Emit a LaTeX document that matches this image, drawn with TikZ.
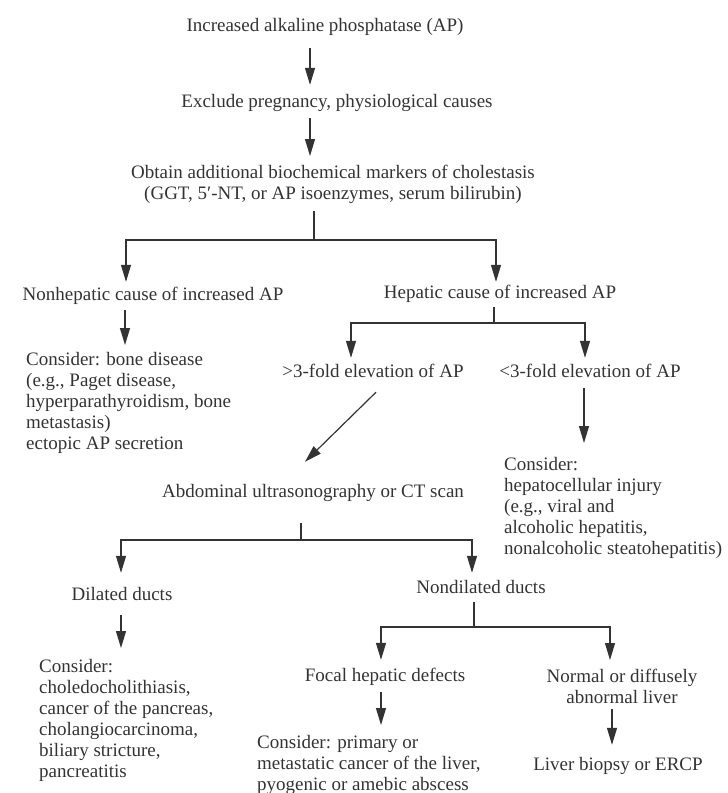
\documentclass[tikz,border=0pt]{standalone}
\usepackage{fontspec}
\setmainfont{Liberation Serif}
\usetikzlibrary{arrows.meta}
\definecolor{ink}{HTML}{333333}
\begin{document}
\begin{tikzpicture}[x=1pt,y=-1pt,
  every node/.style={inner sep=0pt, text=ink, font=\fontsize{19}{21}\selectfont},
  lbl/.style={anchor=base, text height=14pt, text depth=5pt},
  blockl/.style={anchor=north west, align=left},
  blockc/.style={anchor=north, align=center},
  link/.style={draw=ink, line width=1.2pt},
  arr/.style={link, -{Triangle[length=17pt,width=10pt]}}]
\useasboundingbox (0,0) rectangle (728,793);

% steps and findings
\node[lbl] (inc) at (325,31) {Increased alkaline phosphatase (AP)};
\node[lbl] (excl) at (337,107) {Exclude pregnancy, physiological causes};
\node[blockc] (obt) at (333,165) {Obtain additional biochemical markers of cholestasis\\(GGT, 5′-NT, or AP isoenzymes, serum bilirubin)};
\node[lbl] (nonhep) at (153,300) {Nonhepatic cause of increased AP};
\node[lbl] (hep) at (500,298) {Hepatic cause of increased AP};
\node[lbl] (gt3) at (373,377) {>3-fold elevation of AP};
\node[lbl] (lt3) at (590,377) {<3-fold elevation of AP};
\node[blockl] (bone) at (26,352) {Consider: bone disease\\(e.g., Paget disease,\\hyperparathyroidism, bone\\metastasis)\\ectopic AP secretion};
\node[lbl] (scan) at (313,497) {Abdominal ultrasonography or CT scan};
\node[blockl] (hepinj) at (504,457) {Consider:\\hepatocellular injury\\(e.g., viral and\\alcoholic hepatitis,\\nonalcoholic steatohepatitis)};
\node[lbl] (dil) at (122,600) {Dilated ducts};
\node[lbl] (nondil) at (481,593) {Nondilated ducts};
\node[blockl] (obstr) at (39,659) {Consider:\\choledocholithiasis,\\cancer of the pancreas,\\cholangiocarcinoma,\\biliary stricture,\\pancreatitis};
\node[lbl] (focal) at (385,681) {Focal hepatic defects};
\node[blockc] (diffuse) at (622,669) {Normal or diffusely\\abnormal liver};
\node[blockl] (tumour) at (257,735) {Consider: primary or\\metastatic cancer of the liver,\\pyogenic or amebic abscess};
\node[lbl] (biopsy) at (618,770) {Liver biopsy or ERCP};

% junctions of the branching lines
\coordinate (j1) at (314,240);
\coordinate (j2) at (494,323);
\coordinate (j3) at (301,540);
\coordinate (j4) at (474,627);

% straight steps
\draw[arr, shorten <=12pt, shorten >=8pt] ([xshift=-15pt]inc.south) -- ([xshift=-27pt]excl.north);
\draw[arr, shorten <=6pt, shorten >=9pt] ([xshift=-27pt]excl.south) -- ([xshift=-23pt]obt.north);

% first branching
\draw[link, shorten <=7pt] ([xshift=-19pt]obt.south) -- (j1);
\draw[arr, shorten >=4pt] (j1) -| ([xshift=-27pt]nonhep.north);
\draw[arr, shorten >=2pt] (j1) -| ([xshift=-4pt]hep.north);
\draw[arr, shorten <=5pt, shorten >=7pt] ([xshift=-28pt]nonhep.south) -- ([xshift=99pt]bone.north west);

% hepatic branching
\draw[link, shorten <=4pt] ([xshift=-6pt]hep.south) -- (j2);
\draw[arr, shorten >=5pt] (j2) -| ([xshift=-22pt]gt3.north);
\draw[arr, shorten >=5pt] (j2) -| ([xshift=-5pt]lt3.north);
\draw[arr] ([xshift=3pt,yshift=-10pt]gt3.south) -- ([xshift=-8pt,yshift=21pt]scan.north);
\draw[arr, shorten <=6pt, shorten >=14pt] ([xshift=-6pt]lt3.south) -- ([xshift=80pt]hepinj.north west);

% imaging branching
\draw[link, shorten <=21pt] ([xshift=-12pt]scan.south) -- (j3);
\draw[arr, shorten >=13pt] (j3) -| ([xshift=-1pt]dil.north);
\draw[arr, shorten >=6pt] (j3) -| ([xshift=-9pt]nondil.north);
\draw[arr, shorten <=10pt, shorten >=11pt] ([xshift=-1pt]dil.south) -- ([xshift=82pt]obstr.north west);

% nondilated ducts branching
\draw[link, shorten <=4pt] ([xshift=-7pt]nondil.south) -- (j4);
\draw[arr, shorten >=7pt] (j4) -| ([xshift=-4pt]focal.north);
\draw[arr, shorten >=9pt] (j4) -| ([xshift=-12pt]diffuse.north);
\draw[arr, shorten <=6pt, shorten >=10pt] ([xshift=-4pt]focal.south) -- ([xshift=124pt]tumour.north west);
\draw[arr, shorten <=5pt, shorten >=11pt] ([xshift=-10pt]diffuse.south) -- ([xshift=-6pt]biopsy.north);
\end{tikzpicture}
\end{document}
